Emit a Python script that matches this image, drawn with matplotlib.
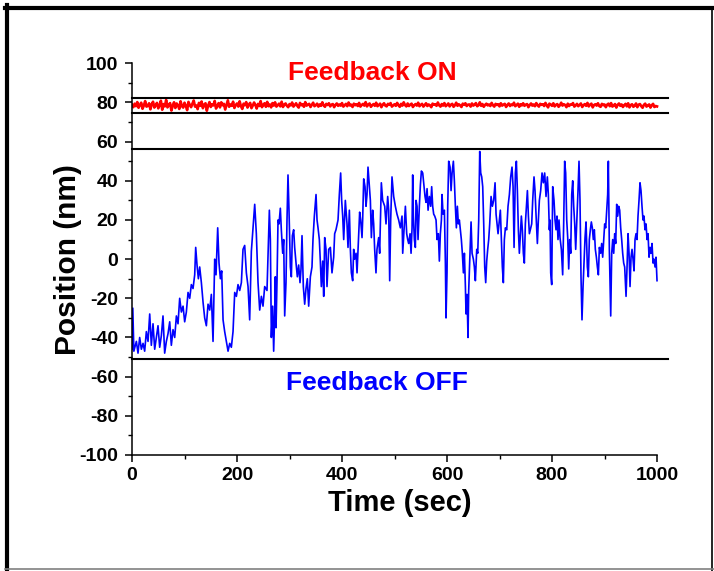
import numpy as np
import matplotlib.pyplot as plt
from matplotlib.lines import Line2D
from matplotlib.ticker import MultipleLocator

plt.rcParams['font.family'] = ['Liberation Sans', 'DejaVu Sans']
plt.rcParams['font.weight'] = 'bold'
plt.rcParams['axes.unicode_minus'] = False

# Feedback ON: trapped bead position, sampled every 2.5 s
dt_on = 2.5
pos_on = [
    78.9, 77.6, 79.4, 78.1, 80.2, 77.3, 78.8, 79.9, 76.8, 78.4, 80.7, 77.9, 78.2, 79.6, 76.5, 79.1, 80.4, 77.4, 78.7, 79.8,
    77.0, 78.6, 80.9, 76.3, 79.2, 78.0, 81.3, 77.5, 78.9, 79.7, 75.9, 78.3, 80.1, 77.2, 79.5, 78.6, 76.7, 80.6, 78.1, 77.4,
    79.9, 78.2, 76.1, 80.3, 78.8, 77.6, 79.4, 81.0, 77.9, 78.5, 76.6, 79.8, 78.3, 80.5, 77.1, 78.9, 79.6, 75.8, 78.4, 80.2,
    77.7, 79.1, 78.5, 80.8, 76.9, 78.2, 79.7, 77.5, 80.1, 78.6, 79.3, 76.4, 78.8, 81.1, 77.8, 79.0, 78.3, 80.4, 77.2, 78.7,
    79.5, 77.9, 80.6, 78.1, 76.7, 79.4, 78.6, 80.2, 77.4, 78.9, 79.8, 77.1, 78.4, 80.0, 78.7, 76.9, 79.3, 78.2, 80.7, 77.6,
    78.8, 79.6, 77.8, 80.3, 78.1, 79.0, 77.5, 79.7, 78.4, 80.1, 77.9, 78.6, 79.4, 78.0, 80.4, 77.7, 78.9, 79.5, 78.3, 77.6,
    79.2, 78.5, 80.0, 77.9, 78.7, 79.6, 78.2, 77.4, 79.8, 78.6, 79.1, 77.8, 80.2, 78.4, 78.9, 79.3, 77.7, 78.8, 79.9, 78.1,
    78.6, 79.4, 77.9, 79.0, 78.3, 80.1, 78.5, 77.8, 79.3, 78.7, 79.6, 78.0, 78.9, 79.2, 77.6, 78.8, 79.5, 78.3, 79.0, 78.4,
    79.7, 77.9, 78.6, 79.3, 78.1, 80.0, 78.5, 78.9, 77.7, 79.4, 78.6, 79.1, 78.2, 79.8, 77.9, 78.7, 79.3, 78.4, 80.2, 78.0,
    78.9, 79.5, 77.8, 78.6, 79.2, 78.3, 79.9, 78.1, 78.7, 79.4, 77.6, 78.9, 79.6, 78.4, 78.0, 79.3, 78.8, 79.7, 77.9, 78.5,
    79.1, 78.3, 79.8, 78.6, 77.8, 79.3, 78.4, 80.1, 78.7, 78.0, 79.5, 78.2, 78.9, 79.4, 77.7, 78.6, 79.2, 78.4, 79.9, 78.1,
    78.8, 79.3, 77.9, 78.7, 79.6, 78.2, 79.0, 78.5, 77.6, 79.4, 78.9, 79.1, 78.3, 80.0, 78.6, 77.9, 79.2, 78.4, 79.7, 78.1,
    78.7, 79.5, 78.0, 78.9, 79.3, 77.8, 78.6, 79.9, 78.3, 79.1, 78.5, 77.7, 79.4, 78.8, 79.6, 78.2, 78.9, 79.0, 77.9, 79.5,
    78.4, 78.9, 79.7, 78.1, 78.6, 80.1, 78.3, 79.2, 77.8, 78.8, 79.4, 78.5, 79.0, 78.2, 79.8, 78.6, 77.9, 79.3, 78.7, 79.1,
    78.0, 79.6, 78.4, 78.9, 79.3, 77.7, 78.8, 79.5, 78.2, 79.0, 78.6, 79.9, 78.1, 78.7, 79.4, 77.8, 79.1, 78.5, 79.6, 78.3,
    78.9, 79.2, 77.6, 78.7, 79.5, 78.4, 79.0, 78.1, 79.7, 78.6, 77.9, 79.3, 78.8, 79.1, 78.2, 79.8, 78.5, 77.5, 79.4, 78.9,
    78.3, 79.6, 78.0, 78.8, 79.2, 77.8, 78.6, 79.9, 78.4, 79.1, 78.7, 77.6, 79.4, 78.2, 79.0, 78.9, 79.7, 77.9, 78.5, 79.3,
    78.1, 78.8, 79.5, 77.7, 78.6, 79.2, 78.3, 79.8, 78.0, 78.9, 79.4, 77.5, 78.7, 79.1, 78.4, 79.6, 78.2, 77.8, 79.3, 78.6,
    79.0, 77.6, 78.9, 79.4, 78.1, 79.7, 77.9, 78.5, 79.2, 77.4, 78.8, 79.5, 78.3, 79.0, 77.7, 78.6, 79.3, 78.0, 79.6, 77.5,
    78.7, 79.1, 77.8, 78.4, 79.5, 77.6, 78.9, 79.2, 78.1, 77.3, 78.8, 79.4, 77.9, 78.5, 79.0, 77.4, 78.6, 79.3, 77.7, 78.2,
    78.0,
]

# Feedback OFF: free bead position (time in s, position in nm)
t_off = [
    0.0, 1.5, 3.5, 8.3, 11.4, 14.6, 17.8, 21.0, 24.1, 27.3, 30.5, 33.7, 36.8, 40.0, 43.2, 46.4, 49.5, 52.7,
    55.9, 59.0, 62.2, 65.4, 68.6, 71.8, 74.9, 78.1, 81.3, 84.5, 87.6, 90.8, 94.0, 97.2, 100.3, 103.5, 106.7,
    109.9, 113.0, 116.2, 119.4, 121.3, 123.8, 126.4, 128.9, 132.1, 135.3, 138.4, 141.6, 144.8, 148.0, 151.1,
    154.3, 157.5, 160.0, 163.2, 165.7, 168.3, 170.8, 173.4, 176.5, 179.7, 182.9, 186.1, 189.2, 192.4, 195.6,
    198.8, 201.9, 205.1, 208.3, 211.4, 214.6, 217.8, 221.0, 224.1, 227.3, 230.5, 233.7, 236.8, 240.0, 243.2,
    246.4, 249.5, 252.7, 257.1, 261.6, 263.5, 265.4, 267.9, 269.8, 271.7, 273.0, 274.3, 276.2, 278.1, 280.0,
    282.5, 284.4, 287.0, 288.9, 290.8, 293.3, 295.2, 297.1, 299.0, 301.6, 303.5, 305.4, 307.9, 309.8, 312.4,
    314.9, 317.4, 320.0, 321.9, 323.8, 326.3, 328.9, 331.4, 333.9, 336.5, 339.7, 342.8, 344.7, 347.3, 350.5,
    352.4, 354.3, 356.8, 358.7, 360.6, 363.2, 365.1, 367.0, 369.5, 371.4, 374.6, 377.8, 380.9, 384.1, 386.0,
    388.5, 392.4, 394.9, 397.4, 399.3, 401.3, 403.2, 406.3, 409.5, 411.4, 414.0, 415.9, 417.8, 420.3, 422.2,
    424.1, 426.7, 428.6, 431.7, 433.6, 435.5, 438.1, 439.3, 441.3, 443.8, 445.7, 447.6, 449.5, 451.4, 454.0,
    455.9, 458.4, 460.3, 462.2, 464.7, 466.6, 469.8, 471.7, 474.9, 477.4, 481.3, 483.8, 487.0, 488.9, 490.8,
    492.7, 495.2, 498.4, 501.6, 504.7, 507.9, 511.1, 514.3, 515.6, 518.8, 520.7, 523.2, 525.1, 527.0, 529.6,
    531.5, 533.4, 534.6, 535.9, 537.8, 539.7, 541.0, 542.9, 544.8, 547.3, 549.3, 551.2, 553.7, 555.6, 558.1,
    560.0, 562.0, 563.9, 566.4, 568.9, 570.8, 572.7, 574.6, 576.6, 579.1, 581.0, 583.5, 585.4, 587.3, 589.3,
    590.5, 592.4, 595.0, 596.9, 598.1, 600.0, 601.3, 603.2, 605.8, 607.7, 609.6, 612.1, 614.0, 615.9, 617.8,
    619.7, 621.6, 623.5, 625.4, 627.3, 629.2, 631.2, 633.1, 635.0, 636.2, 638.1, 640.0, 641.3, 643.9, 645.8,
    647.7, 650.2, 652.1, 654.0, 656.6, 658.5, 660.4, 662.3, 664.2, 666.1, 668.0, 669.9, 671.8, 673.7, 675.6,
    677.5, 679.4, 681.3, 683.9, 686.4, 688.9, 691.5, 693.4, 695.3, 697.2, 699.7, 701.6, 703.5, 705.4, 707.3,
    709.2, 711.2, 713.7, 716.2, 718.8, 721.3, 723.8, 725.8, 727.7, 730.2, 732.1, 734.0, 735.9, 737.8, 739.7,
    741.6, 743.5, 745.4, 747.3, 749.2, 751.2, 753.1, 755.0, 756.9, 761.3, 763.2, 765.7, 767.6, 769.5, 772.1,
    774.0, 775.9, 778.4, 781.0, 783.5, 786.0, 788.6, 791.1, 793.0, 794.9, 796.2, 797.5, 799.4, 801.3, 803.8,
    805.7, 807.6, 809.5, 811.4, 813.3, 815.2, 817.8, 820.3, 822.2, 824.1, 826.0, 828.0, 829.9, 831.8, 833.7,
    835.6, 837.5, 839.4, 841.3, 843.2, 845.1, 847.0, 849.5, 851.4, 853.3, 855.2, 857.1, 859.1, 861.0, 862.9,
    864.8, 867.3, 869.2, 871.1, 873.0, 874.9, 876.8, 878.7, 880.6, 882.5, 884.5, 886.4, 888.3, 890.2, 892.7,
    894.6, 896.5, 898.4, 900.3, 902.2, 904.1, 906.0, 907.3, 909.2, 910.5, 911.8, 913.7, 915.6, 917.5, 919.4,
    921.3, 923.2, 925.1, 927.0, 928.9, 930.8, 932.7, 934.6, 936.5, 938.4, 941.0, 942.9, 944.8, 946.7, 948.6,
    950.5, 952.4, 954.3, 956.2, 958.1, 960.0, 961.9, 963.8, 965.7, 967.6, 969.5, 971.4, 973.3, 975.2, 977.1,
    979.1, 981.0, 982.9, 984.8, 986.7, 988.6, 990.5, 992.4, 994.3, 996.2, 998.1, 1000.0,
]
pos_off = [
    -46, -25, -47, -42, -48, -40, -46, -43, -47, -37, -42, -28, -44, -33, -46, -40, -34, -45,
    -39, -29, -48, -42, -38, -32, -44, -36, -40, -29, -33, -20, -27, -24, -32, -27, -17,
    -20, -13, -15, -8, 6, -3, -10, -4, -12, -22, -30, -34, -23, -26, -18,
    -42, 0, -8, 16, -2, -10, -6, -31, -37, -42, -47, -43, -45, -37, -17,
    -19, -13, -16, -12, 5, 7, -7, -14, -31, 4, 16, 28, 13, -12, -26,
    -19, -24, -14, -16, 25, 10, -40, -24, -47, -28, -9, -35, -11, 20, 18,
    26, 15, 3, 10, -29, -12, 20, 43, 25, -4, -9, 12, 15, 6, -2,
    -9, -3, -12, -5, 12, -14, -23, -15, -10, -24, -9, -4, 10, 22, 33,
    20, 16, 10, -1, -14, -1, -19, 11, 5, -14, 5, 6, -7, 1, 13,
    15, 20, 33, 44, 30, 22, 10, 30, 18, 6, 25, 5, -7, -11, 5,
    0, 3, -7, 13, 24, 20, 11, 20, 41, 37, 27, 33, 47, 40, 30,
    11, 25, 18, 5, -7, 5, 11, 3, 39, 30, 27, 18, 32, 25, -11,
    20, 42, 32, 27, 23, 20, 16, 22, 3, 18, 27, 13, 10, 8, 13,
    3, 16, 43, 22, 10, 6, 30, 27, 10, 27, 38, 45, 44, 39, 32,
    29, 36, 25, 32, 27, 37, 27, 23, 22, 20, 10, 13, -1, 13, 20,
    33, 23, 25, -2, -30, -7, 27, 50, 47, 35, 44, 50, 40, 27, 16,
    27, 18, 20, 15, 10, 3, -7, 3, -14, -28, -18, -40, -16, 5, 19,
    3, 0, -4, -11, 5, 3, 20, 55, 44, 42, 37, 18, -4, -12, -1,
    5, 10, 18, 32, 27, 30, 39, 23, 18, 13, 20, 25, 10, -4, -12,
    10, 16, 15, 27, 33, 42, 47, 37, 6, 44, 50, 35, 15, 3, 13,
    22, 15, 3, -2, 18, 27, 35, 22, 13, 18, 30, 42, 35, 23, 8,
    20, 30, 35, 44, 39, 44, 32, 42, 33, 15, 20, -7, -13, 37, 30,
    20, 15, 22, 10, 20, 11, 5, -8, 18, 50, 44, 20, 11, -5, 10,
    3, 33, 40, 27, 18, 5, 18, 35, 50, 30, -9, -31, -14, -1, 11,
    19, -4, -9, 10, 15, 19, 16, 10, 15, 5, 1, -4, -8, 6, 3,
    8, 1, 10, 18, 16, 25, 33, 50, 5, -11, -29, 3, 10, 3, 13,
    8, 28, 22, 27, 25, 16, 10, 3, -2, -4, -19, -4, 13, 3, -14,
    1, 5, 0, -6, 10, 13, 10, 22, 30, 39, 35, 27, 20, 22, 15,
    18, 10, 13, 1, 6, 3, 8, -2, 0, -4, 1, -11,
]

# Band limits (nm) marking the two regimes
band_on = [74.8, 82.5]
band_off = [-51.0, 56.3]

t_on = np.arange(len(pos_on)) * dt_on

fig = plt.figure(figsize=(7.14, 5.71), dpi=100)
ax = fig.add_axes([0.1849, 0.2032, 0.750, 0.6859])

ax.plot(t_off, pos_off, color='#0000ff', lw=1.2)
ax.plot(t_on, pos_on, color='#ff0000', lw=1.9)

for yb in band_on + band_off:
    ax.plot([0, 1020], [yb, yb], color='black', lw=1.5, clip_on=False)

ax.text(457, 95, 'Feedback ON', color='#ff0000', fontsize=19, fontweight='bold',
        ha='center', va='center')
ax.text(466, -63, 'Feedback OFF', color='#0000ff', fontsize=19, fontweight='bold',
        ha='center', va='center')

ax.set_xlim(0, 1020)
ax.set_ylim(-100, 100)
ax.spines['top'].set_visible(False)
ax.spines['right'].set_visible(False)
ax.spines['bottom'].set_bounds(0, 1000)
ax.spines['left'].set_linewidth(1.1)
ax.spines['bottom'].set_linewidth(1.1)

ax.set_xticks(np.arange(0, 1001, 200))
ax.xaxis.set_minor_locator(MultipleLocator(100))
ax.set_yticks(np.arange(-100, 101, 20))
ax.yaxis.set_minor_locator(MultipleLocator(10))
ax.tick_params(which='major', direction='out', length=5, width=1.1, labelsize=14, pad=4)
ax.tick_params(which='minor', direction='out', length=3, width=1.0)
ax.tick_params(axis='y', which='major', pad=5)

ax.set_xlabel('Time (sec)', fontsize=21, fontweight='bold', labelpad=3)
ax.set_ylabel('Position (nm)', fontsize=21.5, fontweight='bold', labelpad=-2)

# frame around the whole figure: heavy on the left/top, thin on the right/bottom
W, H = 714.0, 571.0
frame = [
    ([6.5 / W, 6.5 / W], [0.0, 1 - 5.0 / H], 3.0, 'black'),
    ([4.5 / W, 1.0], [1 - 7.5 / H, 1 - 7.5 / H], 3.0, 'black'),
    ([711.5 / W, 711.5 / W], [0.0, 1 - 7.5 / H], 1.2, 'black'),
    ([5.0 / W, 1.0], [2.0 / H, 2.0 / H], 1.2, '#808080'),
]
for xs, ys, lw, c in frame:
    fig.lines.append(Line2D(xs, ys, transform=fig.transFigure, color=c, lw=lw))

fig.savefig('out.png', dpi=100)
